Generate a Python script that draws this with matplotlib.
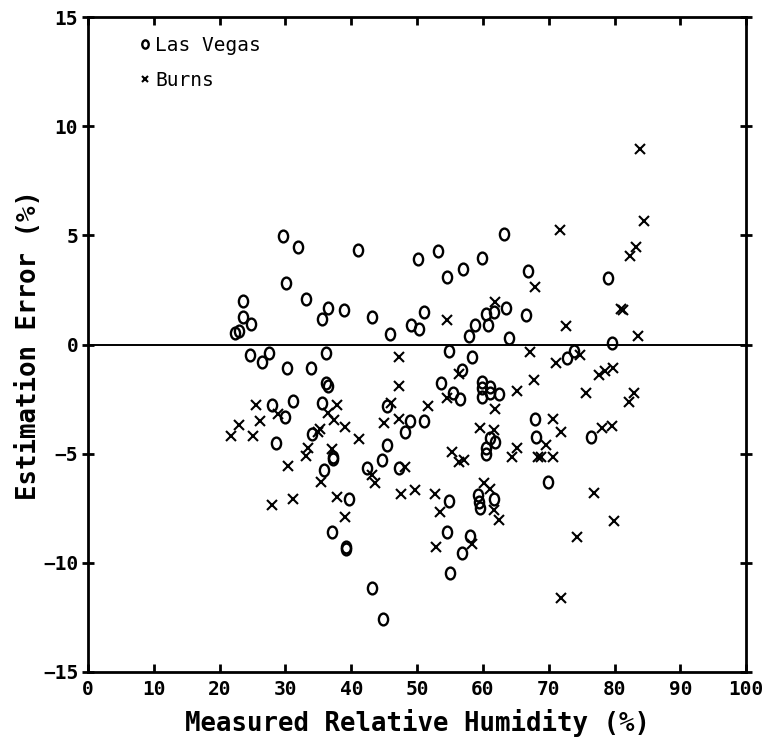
import matplotlib
matplotlib.use("Agg")
import matplotlib.pyplot as plt
from matplotlib.path import Path
from matplotlib.transforms import Affine2D

# Las Vegas: measured RH (%) and estimation error (%)
lv_rh = [29.7, 31.9, 41.0, 30.1, 23.5, 33.1, 36.4, 35.5, 38.9, 43.2, 23.6, 24.7,
         23.0, 22.3, 45.9, 49.0, 63.2, 53.1, 50.1, 54.5, 56.9, 59.8, 66.9, 51.1,
         50.3, 58.8, 57.9, 60.5, 61.7, 60.7, 63.5, 66.5, 64.0, 79.0, 79.6,
         24.6, 26.4, 27.5, 36.2, 30.3, 33.9, 36.2, 36.5, 27.9, 31.2, 29.9, 35.5,
         45.4, 48.1, 34.1, 28.6, 45.4, 54.8, 58.3, 56.8, 72.7, 73.8, 53.6, 55.5,
         56.5, 59.8, 59.8, 59.8, 61.1, 61.1, 62.4, 48.9, 51.0, 67.9, 68.1, 76.4,
         61.1, 61.8, 60.4, 60.5, 47.2, 69.9, 54.9, 59.3, 59.4, 59.6, 61.7, 54.6,
         58.1, 56.8, 55.0, 37.2, 37.3, 35.9, 42.4, 44.6, 39.6, 37.0, 39.2, 39.2,
         43.1, 44.8]
lv_err = [4.98, 4.48, 4.33, 2.80, 2.00, 2.08, 1.69, 1.18, 1.58, 1.26, 1.25, 0.92,
          0.63, 0.51, 0.47, 0.90, 5.06, 4.28, 3.90, 3.08, 3.47, 3.98, 3.37, 1.50,
          0.70, 0.89, 0.39, 1.38, 1.47, 0.88, 1.69, 1.35, 0.30, 3.06, 0.08,
          -0.48, -0.79, -0.37, -0.40, -1.09, -1.09, -1.75, -1.89, -2.79, -2.59, -3.31, -2.66,
          -2.80, -3.99, -4.10, -4.50, -4.60, -0.30, -0.59, -1.17, -0.63, -0.30, -1.78, -2.24,
          -2.50, -1.70, -2.00, -2.39, -1.93, -2.24, -2.28, -3.50, -3.50, -3.43, -4.22, -4.22,
          -4.30, -4.45, -4.75, -5.00, -5.64, -6.28, -7.17, -6.89, -7.20, -7.50, -7.09, -8.57,
          -8.77, -9.57, -10.48, -5.14, -5.22, -5.75, -5.67, -5.29, -7.09, -8.57, -9.27, -9.35,
          -11.17, -12.59]

# Burns
bu_rh = [47.2, 47.3, 46.1, 25.5, 26.1, 28.9, 23.0, 21.8, 25.0, 37.8, 36.5, 37.4,
         39.1, 35.3, 35.0, 41.2, 44.9, 47.3, 33.5, 37.0, 71.7, 67.9, 61.8, 54.5,
         72.6, 67.2, 71.1, 74.8, 77.7, 56.3, 67.7, 54.6, 65.1, 75.6, 51.6, 61.9,
         70.6, 71.9, 59.6, 61.7, 69.5, 65.1, 55.3, 83.8, 84.4, 83.2, 82.3, 81.0,
         81.3, 83.6, 78.5, 79.7, 82.2, 82.9, 78.1, 79.6, 56.4, 57.1, 48.2, 64.4,
         68.4, 68.8, 70.7, 76.8, 49.7, 47.6, 52.7, 53.5, 60.2, 61.1, 61.7, 62.4,
         74.3, 52.9, 58.3, 71.9, 79.9, 33.1, 30.4, 35.4, 43.2, 43.6, 27.9, 31.2,
         37.9, 39.1]
bu_err = [-0.59, -1.89, -2.70, -2.77, -3.49, -3.20, -3.67, -4.19, -4.19, -2.77, -3.15, -3.46,
          -3.76, -3.89, -4.00, -4.33, -3.61, -3.41, -4.72, -4.80, 5.24, 2.65, 1.96, 1.12,
          0.84, -0.33, -0.86, -0.50, -1.40, -1.33, -1.63, -2.43, -2.14, -2.20, -2.80, -2.95,
          -3.43, -4.02, -3.84, -3.90, -4.60, -4.72, -4.90, 8.96, 5.67, 4.48, 4.05, 1.63,
          1.58, 0.39, -1.20, -1.09, -2.62, -2.24, -3.84, -3.73, -5.40, -5.28, -5.63, -5.14,
          -5.14, -5.14, -5.14, -6.79, -6.66, -6.84, -6.85, -7.66, -6.33, -6.63, -7.58, -8.04,
          -8.80, -9.26, -9.14, -11.63, -8.07, -5.11, -5.55, -6.28, -5.98, -6.33, -7.35, -7.08,
          -6.97, -7.89]

mono = "DejaVu Sans Mono"

# upright oval, like a plotter "o"
oval = Path.unit_circle().transformed(Affine2D().scale(0.78, 1.0))

fig = plt.figure(figsize=(7.71, 7.45), dpi=100)
ax = fig.add_axes([0.114, 0.098, 0.854, 0.879])

ax.plot(lv_rh, lv_err, linestyle="none", marker=oval, markersize=8.5,
        markerfacecolor="none", markeredgecolor="black", markeredgewidth=1.7,
        label="Las Vegas")
ax.plot(bu_rh, bu_err, linestyle="none", marker="x", markersize=7,
        color="black", markeredgewidth=1.5, label="Burns")
ax.axhline(0, color="black", linewidth=1.4)

ax.set_xlim(0, 100)
ax.set_ylim(-15, 15)
ax.set_xticks(range(0, 101, 10))
ax.set_yticks(range(-15, 16, 5))

for side in ax.spines.values():
    side.set_linewidth(2)
ax.tick_params(axis="x", direction="in", length=6, width=2, top=True,
               labelsize=14, pad=6)
ax.tick_params(axis="y", direction="inout", length=8, width=2, right=True,
               labelsize=14, pad=3)
for lab in ax.get_xticklabels() + ax.get_yticklabels():
    lab.set_fontfamily(mono)
    lab.set_fontweight("bold")

ax.set_xlabel("Measured Relative Humidity (%)", fontsize=18.5,
              fontfamily=mono, fontweight="bold", labelpad=7)
ax.set_ylabel("Estimation Error (%)", fontsize=18.5,
              fontfamily=mono, fontweight="bold", labelpad=1)

ax.legend(loc="upper left", bbox_to_anchor=(0.055, 0.998), frameon=False,
          handlelength=0.4, handletextpad=0.3, labelspacing=0.8,
          markerscale=0.7, prop={"family": mono, "size": 14})

fig.savefig("out.png", dpi=100)
